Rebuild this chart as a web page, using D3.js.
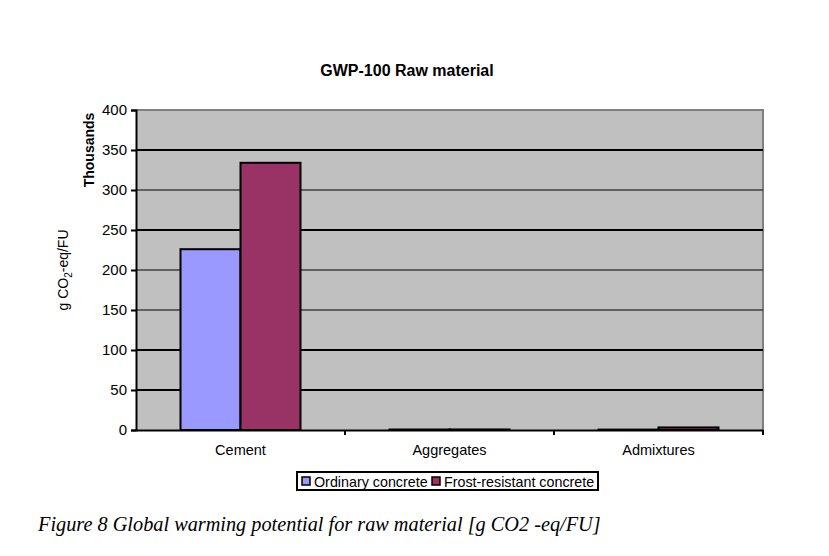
<!DOCTYPE html>
<html><head><meta charset="utf-8">
<script src="https://cdn.jsdelivr.net/npm/d3@7"></script>
<style>body{margin:0;background:#fff}</style>
</head><body>
<svg id="c" width="829" height="556" font-family="Liberation Sans, Arial, sans-serif"></svg>
<script>
const categories = ["Cement", "Aggregates", "Admixtures"];
const seriesNames = ["Ordinary concrete", "Frost-resistant concrete"];
const ordinary = [226, 0.6, 0.5];
const frost = [334, 0.7, 3.2];
const yTicks = [0, 50, 100, 150, 200, 250, 300, 350, 400];
const colors = ["#9999FF", "#993366"];

const svg = d3.select("#c");
const L = 136, R = 763, T = 110, B = 430;
const x = d3.scaleBand().domain(categories).range([L, R]);
const xs = d3.scaleBand().domain(seriesNames).range([0, 120]);
const y = d3.scaleLinear().domain([0, 400]).range([B, T]);
const SANS = "Liberation Sans, Arial, sans-serif";

svg.append("rect").attr("x", L).attr("y", T).attr("width", R - L).attr("height", B - T).attr("fill", "#C0C0C0");
svg.append("path").attr("d", `M${L},${T}H${R}V${B}`).attr("fill", "none").attr("stroke", "#808080").attr("stroke-width", 2);

// gridlines
const thick = new Set([350, 250, 100, 50]);
svg.append("g").selectAll("line").data(yTicks.filter(d => d > 0 && d < 400)).join("line")
  .attr("x1", L).attr("x2", R).attr("y1", d => y(d)).attr("y2", d => y(d))
  .attr("stroke", "#000").attr("stroke-width", d => thick.has(d) ? 2 : 1.2);

// bars
const series = [ordinary, frost];
series.forEach((vals, si) => {
  svg.append("g").selectAll("rect").data(vals).join("rect")
    .attr("x", (d, i) => x(categories[i]) + x.bandwidth() / 2 - 60 + xs(seriesNames[si]))
    .attr("width", xs.bandwidth())
    .attr("y", d => y(d)).attr("height", d => B - y(d))
    .attr("fill", colors[si]).attr("stroke", "#000").attr("stroke-width", 2);
});

// y axis
const ya = svg.append("g").attr("transform", `translate(${L},0)`)
  .call(d3.axisLeft(y).tickValues(yTicks).tickSize(5).tickPadding(4));
ya.select(".domain").attr("stroke", "#000").attr("stroke-width", 2);
ya.selectAll(".tick line").attr("stroke", "#000").attr("stroke-width", 2);
ya.selectAll("text").style("font-size", "15px").style("font-family", SANS).attr("fill", "#000");

// x axis
const xa = svg.append("g").attr("transform", `translate(0,${B})`)
  .call(d3.axisBottom(x).tickSize(0).tickPadding(15));
xa.select(".domain").attr("stroke", "#000").attr("stroke-width", 2);
xa.selectAll("text").style("font-size", "14.5px").style("font-family", SANS).attr("fill", "#000");
svg.append("g").selectAll("line").data(categories).join("line")
  .attr("x1", d => x(d) + x.bandwidth()).attr("x2", d => x(d) + x.bandwidth())
  .attr("y1", B).attr("y2", B + 5).attr("stroke", "#000").attr("stroke-width", 2);

// title
svg.append("text").attr("x", 407).attr("y", 76).attr("text-anchor", "middle")
  .style("font-size", "16px").attr("font-weight", "bold").text("GWP-100 Raw material");

// y titles
const yt = svg.append("text").attr("transform", "translate(68,270) rotate(-90)").attr("text-anchor", "middle").style("font-size", "14px");
yt.append("tspan").text("g CO");
yt.append("tspan").style("font-size", "10px").attr("dy", 4).text("2");
yt.append("tspan").attr("dy", -4).text("-eq/FU");
svg.append("text").attr("transform", "translate(94,150) rotate(-90)").attr("text-anchor", "middle")
  .style("font-size", "14px").attr("font-weight", "bold").text("Thousands");

// legend
const lg = svg.append("g");
lg.append("rect").attr("x", 297).attr("y", 472).attr("width", 301).attr("height", 18)
  .attr("fill", "#fff").attr("stroke", "#000").attr("stroke-width", 2);
const lx = [302, 432];
seriesNames.forEach((n, i) => {
  lg.append("rect").attr("x", lx[i]).attr("y", 477).attr("width", 8).attr("height", 8)
    .attr("fill", colors[i]).attr("stroke", "#000").attr("stroke-width", 1.5);
  lg.append("text").attr("x", lx[i] + 12).attr("y", 486.5).style("font-size", "14.3px").text(n);
});

// caption
svg.append("text").attr("x", 38).attr("y", 531).style("font-family", "Liberation Serif, Times New Roman, serif")
  .attr("font-style", "italic").style("font-size", "20.3px").text("Figure 8 Global warming potential for raw material [g CO2 -eq/FU]");
</script>
</body></html>
